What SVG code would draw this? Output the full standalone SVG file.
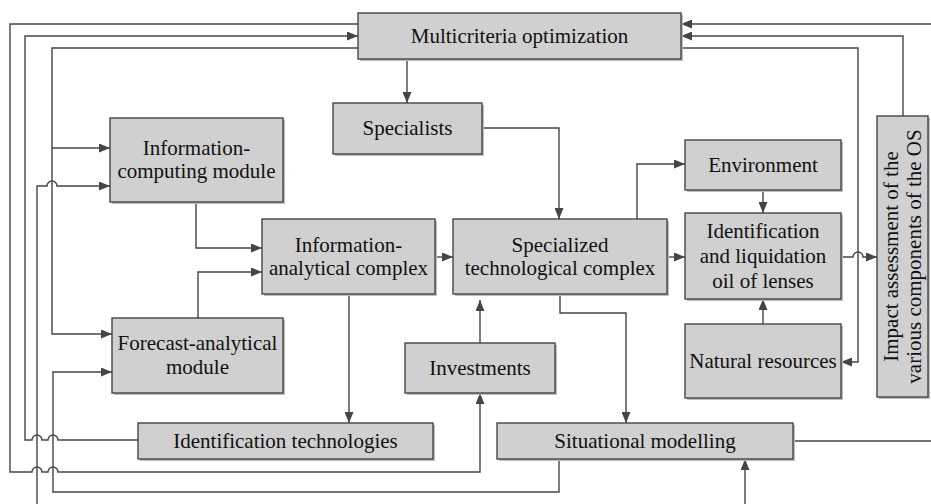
<svg xmlns="http://www.w3.org/2000/svg" width="931" height="504" viewBox="0 0 931 504">
<style>
.box rect.b{fill:#d0d0d0;stroke:#454545;stroke-width:1.4}
.box rect.s{fill:#bdbdbd;stroke:none}
.box text{font-family:"Liberation Serif","Times New Roman",serif;font-size:21px;fill:#111;text-anchor:middle}
#connectors path{fill:none;stroke:#454545;stroke-width:1.4}
</style>
<defs>
<marker id="ah" viewBox="0 0 11 9" refX="11" refY="4.5" markerWidth="11" markerHeight="9" markerUnits="userSpaceOnUse" orient="auto">
<path d="M0,0 L11,4.5 L0,9 z" fill="#454545"/>
</marker>
</defs>
<rect width="931" height="504" fill="#fff"/>
<g id="connectors">
<path d="M407,59 V103" marker-end="url(#ah)"/>
<path d="M482,128 H559 V219" marker-end="url(#ah)"/>
<path d="M358,24 H10 V472 H32 a5,5 0 0 1 10,0 H48 a5,5 0 0 1 10,0 H480 V393" marker-end="url(#ah)"/>
<path d="M138,440 H58 a5,5 0 0 0 -10,0 H42 a5,5 0 0 0 -10,0 H25 V36 H358" marker-end="url(#ah)"/>
<path d="M358,48 H52 V334 H112" marker-end="url(#ah)"/>
<path d="M52,148 H110" marker-end="url(#ah)"/>
<path d="M37,504 V186 H47 a5,5 0 0 1 10,0 H110" marker-end="url(#ah)"/>
<path d="M559,459 V492 H53 V372 H112" marker-end="url(#ah)"/>
<path d="M196,202 V248 H262" marker-end="url(#ah)"/>
<path d="M198,318 V272 H262" marker-end="url(#ah)"/>
<path d="M435,257 H453" marker-end="url(#ah)"/>
<path d="M349,294 V423" marker-end="url(#ah)"/>
<path d="M480,343 V300" marker-end="url(#ah)"/>
<path d="M560,294 V313 H626 V423" marker-end="url(#ah)"/>
<path d="M637,219 V164 H685" marker-end="url(#ah)"/>
<path d="M763,190 V213" marker-end="url(#ah)"/>
<path d="M667,257 H685" marker-end="url(#ah)"/>
<path d="M763,324 V299" marker-end="url(#ah)"/>
<path d="M841,257 H853 a5,5 0 0 1 10,0 H877" marker-end="url(#ah)"/>
<path d="M681,48 H858 V362 H841" marker-end="url(#ah)"/>
<path d="M903,116 V36 H681" marker-end="url(#ah)"/>
<path d="M931,24 H681" marker-end="url(#ah)"/>
<path d="M793,441 H931"/>
<path d="M745,504 V459" marker-end="url(#ah)"/>
</g>
<g id="multicriteria" class="box">
<rect class="s" x="360" y="15" width="323" height="46"/>
<rect class="b" x="358" y="13" width="323" height="46"/>
<text x="519.5" y="43">Multicriteria optimization</text>
</g>
<g id="specialists" class="box">
<rect class="s" x="335" y="105" width="149" height="51"/>
<rect class="b" x="333" y="103" width="149" height="51"/>
<text x="407.5" y="135">Specialists</text>
</g>
<g id="info-computing" class="box">
<rect class="s" x="112" y="120" width="173" height="84"/>
<rect class="b" x="110" y="118" width="173" height="84"/>
<text x="196.5" y="155">Information-</text>
<text x="196.5" y="178">computing module</text>
</g>
<g id="info-analytical" class="box">
<rect class="s" x="264" y="221" width="173" height="75"/>
<rect class="b" x="262" y="219" width="173" height="75"/>
<text x="348.5" y="252">Information-</text>
<text x="348.5" y="275">analytical complex</text>
</g>
<g id="forecast" class="box">
<rect class="s" x="114" y="320" width="171" height="75"/>
<rect class="b" x="112" y="318" width="171" height="75"/>
<text x="197.5" y="350">Forecast-analytical</text>
<text x="197.5" y="374">module</text>
</g>
<g id="specialized" class="box">
<rect class="s" x="455" y="221" width="214" height="75"/>
<rect class="b" x="453" y="219" width="214" height="75"/>
<text x="560" y="252">Specialized</text>
<text x="560" y="275">technological complex</text>
</g>
<g id="environment" class="box">
<rect class="s" x="687" y="142" width="156" height="50"/>
<rect class="b" x="685" y="140" width="156" height="50"/>
<text x="763" y="172">Environment</text>
</g>
<g id="identification-liquidation" class="box">
<rect class="s" x="687" y="215" width="156" height="86"/>
<rect class="b" x="685" y="213" width="156" height="86"/>
<text x="763" y="238">Identification</text>
<text x="763" y="263">and liquidation</text>
<text x="763" y="288">oil of lenses</text>
</g>
<g id="natural-resources" class="box">
<rect class="s" x="687" y="326" width="156" height="74"/>
<rect class="b" x="685" y="324" width="156" height="74"/>
<text x="763" y="368">Natural resources</text>
</g>
<g id="impact" class="box">
<rect class="s" x="879" y="118" width="51" height="281"/>
<rect class="b" x="877" y="116" width="51" height="281"/>
<text transform="translate(898,256.5) rotate(-90)" x="0" y="0">Impact assessment of the</text>
<text transform="translate(921,256.5) rotate(-90)" x="0" y="0">various components of the OS</text>
</g>
<g id="investments" class="box">
<rect class="s" x="407" y="345" width="150" height="50"/>
<rect class="b" x="405" y="343" width="150" height="50"/>
<text x="480" y="375">Investments</text>
</g>
<g id="identification-technologies" class="box">
<rect class="s" x="140" y="425" width="295" height="36"/>
<rect class="b" x="138" y="423" width="295" height="36"/>
<text x="285.5" y="448">Identification technologies</text>
</g>
<g id="situational-modelling" class="box">
<rect class="s" x="499" y="425" width="296" height="36"/>
<rect class="b" x="497" y="423" width="296" height="36"/>
<text x="645" y="448">Situational modelling</text>
</g>
</svg>
